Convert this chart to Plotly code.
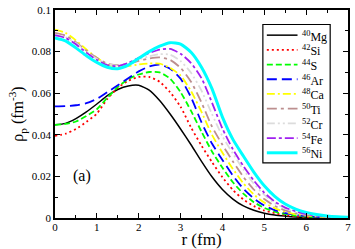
import plotly.graph_objects as go

r = [0, 0.25, 0.5, 0.75, 1.0, 1.25, 1.5, 1.75, 2.0, 2.25, 2.5, 2.75, 3.0, 3.25, 3.5, 3.75,
     4.0, 4.25, 4.5, 4.75, 5.0, 5.25, 5.5, 5.75, 6.0, 6.25, 6.5, 6.75, 7.0]

mg = [0.0448, 0.0455, 0.0478, 0.0510, 0.0548, 0.0588, 0.0618, 0.0635, 0.0638, 0.0615, 0.0565, 0.0500, 0.0428, 0.0352, 0.0272, 0.0198,
      0.0137, 0.0091, 0.0058, 0.0037, 0.0023, 0.0014, 0.0009, 0.0005, 0.0003, 0.0002, 0.0001, 0.0001, 0.0]
si = [0.0395, 0.0405, 0.0428, 0.0462, 0.0502, 0.0572, 0.0625, 0.0660, 0.0678, 0.0678, 0.0655, 0.0605, 0.0535, 0.0435, 0.0348, 0.0269,
      0.0196, 0.0135, 0.0089, 0.0057, 0.0036, 0.0023, 0.0014, 0.0008, 0.0005, 0.0003, 0.0002, 0.0001, 0.0001]
s_ = [0.0448, 0.0452, 0.0464, 0.0490, 0.0523, 0.0578, 0.0630, 0.0668, 0.0690, 0.0702, 0.0700, 0.0670, 0.0605, 0.0515, 0.0415, 0.0320,
      0.0242, 0.0172, 0.0117, 0.0076, 0.0049, 0.0030, 0.0019, 0.0012, 0.0007, 0.0004, 0.0003, 0.0002, 0.0001]
ar = [0.0537, 0.0538, 0.0542, 0.0552, 0.0573, 0.0605, 0.0638, 0.0672, 0.0705, 0.0728, 0.0737, 0.0718, 0.0670, 0.0580, 0.0460, 0.0358,
      0.0279, 0.0204, 0.0141, 0.0094, 0.0060, 0.0038, 0.0024, 0.0015, 0.0009, 0.0005, 0.0003, 0.0002, 0.0001]
ca = [0.0906, 0.0890, 0.0854, 0.0810, 0.0770, 0.0738, 0.0728, 0.0730, 0.0738, 0.0743, 0.0742, 0.0722, 0.0685, 0.0610, 0.0510, 0.0400,
      0.0314, 0.0236, 0.0167, 0.0113, 0.0074, 0.0047, 0.0029, 0.0018, 0.0011, 0.0007, 0.0004, 0.0002, 0.0001]
ti = [0.0890, 0.0877, 0.0845, 0.0805, 0.0770, 0.0742, 0.0735, 0.0742, 0.0755, 0.0767, 0.0772, 0.0760, 0.0722, 0.0655, 0.0555, 0.0440,
      0.0352, 0.0272, 0.0198, 0.0137, 0.0091, 0.0058, 0.0037, 0.0023, 0.0014, 0.0009, 0.0005, 0.0003, 0.0002]
cr = [0.0882, 0.0870, 0.0840, 0.0800, 0.0765, 0.0740, 0.0733, 0.0745, 0.0762, 0.0778, 0.0788, 0.0785, 0.0755, 0.0698, 0.0612, 0.0500,
      0.0393, 0.0310, 0.0233, 0.0165, 0.0111, 0.0072, 0.0046, 0.0029, 0.0018, 0.0011, 0.0007, 0.0004, 0.0002]
fe = [0.0878, 0.0866, 0.0835, 0.0795, 0.0760, 0.0735, 0.0730, 0.0745, 0.0770, 0.0793, 0.0810, 0.0813, 0.0790, 0.0745, 0.0672, 0.0555,
      0.0430, 0.0330, 0.0250, 0.0180, 0.0121, 0.0079, 0.0050, 0.0032, 0.0019, 0.0012, 0.0007, 0.0004, 0.0003]
ni = [0.0866, 0.0852, 0.0818, 0.0780, 0.0748, 0.0725, 0.0718, 0.0735, 0.0768, 0.0800, 0.0826, 0.0843, 0.0836, 0.0797, 0.0725, 0.0622,
      0.0485, 0.0378, 0.0298, 0.0221, 0.0155, 0.0104, 0.0067, 0.0043, 0.0027, 0.0017, 0.0010, 0.0006, 0.0004]

names = ["<sup>40</sup>Mg", "<sup>42</sup>Si", "<sup>44</sup>S", "<sup>46</sup>Ar", "<sup>48</sup>Ca",
         "<sup>50</sup>Ti", "<sup>52</sup>Cr", "<sup>54</sup>Fe", "<sup>56</sup>Ni"]
series = [mg, si, s_, ar, ca, ti, cr, fe, ni]
colors = ["#000000", "#FF0000", "#00FF00", "#0000FF", "#FFFF00", "#BC8F8F", "#DCDCDC", "#A020F0", "#00FFFF"]
dashes = ["solid", "2px,3px", "6px,3px", "10px,5px", "8px,3px,2px,3px", "10px,4px,3px,4px",
          "8px,3px,2px,3px,2px,3px", "9px,3px,3px,3px", "solid"]
widths = [1.5, 1.8, 1.8, 1.8, 1.8, 1.8, 1.8, 1.8, 3]

W, H = 355, 249
ML, MR, MT, MB = 55, 4, 4, 30
PW, PH = W - ML - MR, H - MT - MB

fig = go.Figure()
for nm, y, c, d, w in zip(names, series, colors, dashes, widths):
    fig.add_trace(go.Scatter(x=r, y=y, mode="lines", name=nm, showlegend=False,
                             line=dict(color=c, dash=d, width=w, shape="spline", smoothing=0.6)))

font = "Liberation Serif"
axis_common = dict(showline=True, linecolor="black", linewidth=1.5, mirror="allticks",
                   ticks="inside", ticklen=5, tickwidth=1, tickcolor="black",
                   showgrid=False, zeroline=False, ticklabeloverflow="allow",
                   tickfont=dict(family=font, size=11, color="black"))

fig.update_xaxes(range=[0, 7], dtick=1, tick0=0, ticklabelstandoff=-2,
                 minor=dict(dtick=0.5, ticks="inside", ticklen=3, tickcolor="black"),
                 title=dict(text="r (fm)", font=dict(family=font, size=17, color="black"), standoff=0),
                 **axis_common)
fig.update_yaxes(range=[0, 0.1], dtick=0.02, tick0=0, tickformat="~g",
                 minor=dict(dtick=0.01, ticks="inside", ticklen=3, tickcolor="black"),
                 title=dict(text="ρ<sub>p</sub> (fm<sup>-3</sup>)", font=dict(family=font, size=16, color="black"), standoff=4),
                 **axis_common)

fig.add_annotation(x=0.64, y=0.02, xref="x", yref="y", text="(a)", showarrow=False,
                   font=dict(family=font, size=16, color="black"))

# hand-built legend box (pixel layout converted to paper coords)
def px_x(p):
    return (p - ML) / PW

def px_y(p):
    return (H - MB - p) / PH

fig.add_shape(type="rect", xref="paper", yref="paper",
              x0=px_x(265), x1=px_x(333), y0=px_y(162), y1=px_y(19),
              line=dict(color="black", width=1.2), fillcolor="white", layer="above")
for i, (nm, c, d, w) in enumerate(zip(names, colors, dashes, widths)):
    py = 30 + 15.2 * i
    fig.add_shape(type="line", xref="paper", yref="paper",
                  x0=px_x(269), x1=px_x(300), y0=px_y(py), y1=px_y(py),
                  line=dict(color=c, dash=d, width=w), layer="above")
    fig.add_annotation(xref="paper", yref="paper", x=px_x(303), y=px_y(py + 1),
                       xanchor="left", yanchor="middle", text=nm, showarrow=False,
                       font=dict(family=font, size=12, color="black"))

fig.update_layout(
    width=W, height=H,
    margin=dict(l=ML, r=MR, t=MT, b=MB),
    paper_bgcolor="white", plot_bgcolor="white",
    showlegend=False,
)

fig.write_html("out.html", config={"displayModeBar": False},
               post_script="document.body.style.margin='0';document.body.style.overflow='hidden';")
